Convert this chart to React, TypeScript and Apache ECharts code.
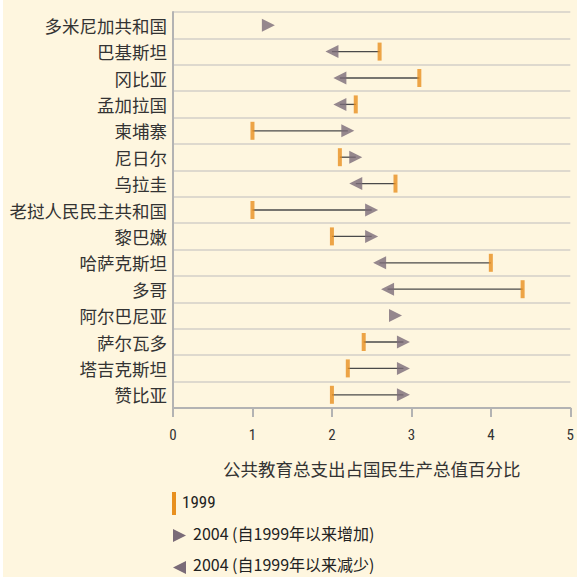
import React, { useEffect, useRef } from "react";
import * as echarts from "echarts";

const countries = [
  "多米尼加共和国",
  "巴基斯坦",
  "冈比亚",
  "孟加拉国",
  "柬埔寨",
  "尼日尔",
  "乌拉圭",
  "老挝人民民主共和国",
  "黎巴嫩",
  "哈萨克斯坦",
  "多哥",
  "阿尔巴尼亚",
  "萨尔瓦多",
  "塔吉克斯坦",
  "赞比亚",
];
const v1999: (number | null)[] = [null, 2.6, 3.1, 2.3, 1.0, 2.1, 2.8, 1.0, 2.0, 4.0, 4.4, null, 2.4, 2.2, 2.0];
const v2004: number[] = [1.2, 2.0, 2.1, 2.1, 2.2, 2.3, 2.3, 2.5, 2.5, 2.6, 2.7, 2.8, 2.9, 2.9, 2.9];
const xTicks = [0, 1, 2, 3, 4, 5];
const axisTitle = "公共教育总支出占国民生产总值百分比";
const legend1999 = "1999";
const legendUp = "2004 (自1999年以来增加)";
const legendDown = "2004 (自1999年以来减少)";

const BG = "#fef6df";
const ORANGE = "#e8901f";
const TRI = "#7a6b78";
const CJK = "'Noto Sans CJK SC', 'Noto Sans', sans-serif";
const NUM = "'Liberation Sans Narrow', 'Roboto Condensed', 'Liberation Sans', sans-serif";

export default function App() {
  const ref = useRef<HTMLDivElement>(null);
  useEffect(() => {
    if (!ref.current) return;
    const chart = echarts.init(ref.current, undefined, { renderer: "svg" });
    const up: any[] = [];
    const down: any[] = [];
    const marks: any[] = [];
    const segs: any[] = [];
    countries.forEach((c, i) => {
      const a = v1999[i];
      const b = v2004[i];
      const isUp = a === null || b >= a;
      (isUp ? up : down).push([b, i]);
      if (a !== null) {
        marks.push([a, i]);
        segs.push([a, b, i]);
      }
    });
    chart.setOption({
      animation: false,
      backgroundColor: BG,
      grid: { left: 173, right: 4, top: 12, bottom: 169, containLabel: false },
      xAxis: {
        type: "value",
        min: 0,
        max: 5,
        interval: 1,
        name: axisTitle,
        nameLocation: "middle",
        nameGap: 52,
        nameTextStyle: { fontFamily: CJK, fontSize: 17.5, color: "#333" },
        axisLine: { show: true, lineStyle: { color: "#b3b3b3", width: 2 } },
        axisTick: { show: true, length: 9, lineStyle: { color: "#b3b3b3", width: 2 } },
        axisLabel: {
          margin: 19,
          fontFamily: NUM,
          fontSize: 15,
          color: "#333",
          formatter: (v: number) => (xTicks.includes(v) ? String(v) : ""),
        },
        splitLine: { show: false },
      },
      yAxis: {
        type: "category",
        data: countries,
        inverse: true,
        boundaryGap: true,
        axisLine: { show: true, lineStyle: { color: "#b3b3b3", width: 2 } },
        axisTick: { show: false },
        axisLabel: { margin: 6, fontFamily: CJK, fontSize: 17.5, color: "#333", interval: 0 },
        splitLine: { show: true, interval: 0, lineStyle: { color: "#d3cfc8", width: 1.5 } },
      },
      series: [
        {
          type: "custom",
          data: segs,
          encode: { x: [0, 1], y: 2 },
          renderItem: (params: any, api: any) => {
            const p1 = api.coord([api.value(0), api.value(2)]);
            const p2 = api.coord([api.value(1), api.value(2)]);
            return {
              type: "line",
              shape: { x1: p1[0], y1: p1[1], x2: p2[0], y2: p2[1] },
              style: { stroke: "#4a4a4a", lineWidth: 1.3 },
            };
          },
          z: 2,
        },
        {
          type: "scatter",
          data: marks,
          symbol: "rect",
          symbolSize: [4, 18],
          itemStyle: { color: ORANGE },
          z: 3,
        },
        {
          type: "scatter",
          data: up,
          symbol: "triangle",
          symbolSize: [13, 13],
          symbolRotate: -90,
          itemStyle: { color: TRI },
          z: 4,
        },
        {
          type: "scatter",
          data: down,
          symbol: "triangle",
          symbolSize: [13, 13],
          symbolRotate: 90,
          itemStyle: { color: TRI },
          z: 4,
        },
      ],
      graphic: [
        { type: "rect", left: 0, top: 0, shape: { width: 3, height: 577 }, style: { fill: "#ffffff" } },
        { type: "rect", left: 172, top: 492, shape: { width: 4, height: 23 }, style: { fill: ORANGE } },
        {
          type: "text",
          left: 182,
          top: 493,
          style: { text: legend1999, font: `17px ${NUM}`, fill: "#222" },
        },
        {
          type: "polygon",
          shape: { points: [[173, 529], [186, 535.5], [173, 542]] },
          style: { fill: TRI },
        },
        {
          type: "text",
          left: 193,
          top: 525,
          style: { text: legendUp, font: `16px ${CJK}`, fill: "#222" },
        },
        {
          type: "polygon",
          shape: { points: [[186, 561], [173, 567.5], [186, 574]] },
          style: { fill: TRI },
        },
        {
          type: "text",
          left: 193,
          top: 556,
          style: { text: legendDown, font: `16px ${CJK}`, fill: "#222" },
        },
      ],
    });
    return () => chart.dispose();
  }, []);
  return (
    <div
      ref={ref}
      style={{ position: "fixed", left: 0, top: 0, width: 577, height: 577 }}
    />
  );
}
